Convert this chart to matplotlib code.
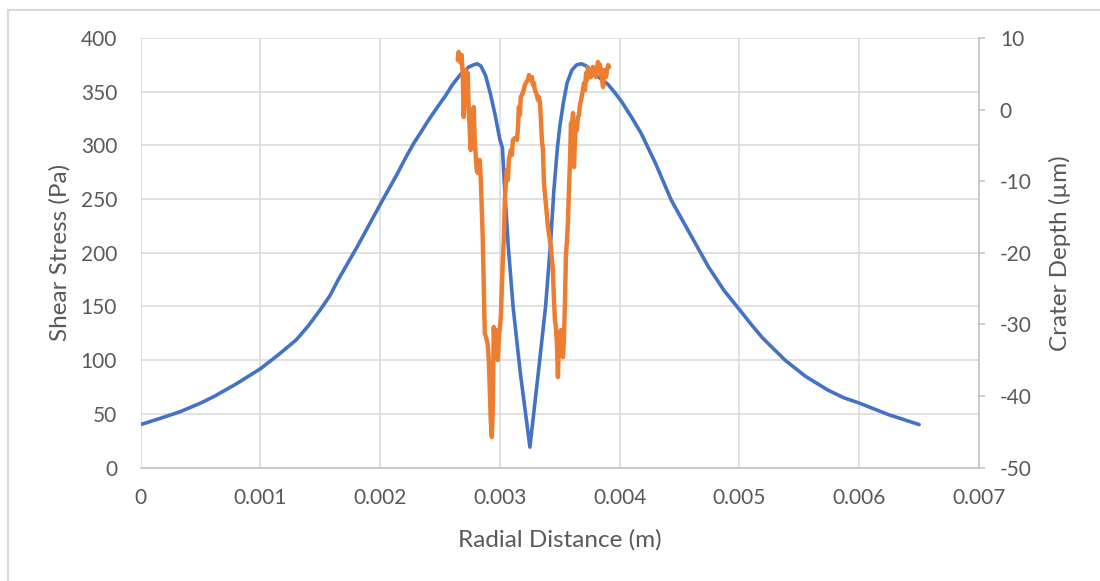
import matplotlib
matplotlib.use("Agg")
import matplotlib.pyplot as plt
from matplotlib.lines import Line2D
import numpy as np

plt.rcParams['font.family'] = ['Lato', 'DejaVu Sans']
plt.rcParams['axes.unicode_minus'] = False

# Wall shear stress profile (radial distance in mm, stress in Pa)
stress_r_mm = [0.0, 0.17, 0.33, 0.50, 0.61, 0.80, 1.00, 1.15, 1.30, 1.40, 1.50,
               1.58, 1.65, 1.81, 1.99, 2.14, 2.21, 2.28, 2.35, 2.40, 2.48, 2.55,
               2.60, 2.67, 2.74, 2.78, 2.81, 2.84, 2.88, 2.92, 2.96, 3.00, 3.02,
               3.04, 3.07, 3.11, 3.17, 3.25, 3.32, 3.38, 3.42, 3.45, 3.48, 3.50,
               3.53, 3.56, 3.60, 3.64, 3.68, 3.72, 3.76, 3.83, 3.90, 3.96, 4.02,
               4.10, 4.18, 4.30, 4.43, 4.58, 4.66, 4.74, 4.87, 5.00, 5.10, 5.19,
               5.38, 5.55, 5.74, 5.87, 6.00, 6.25, 6.50]
shear_pa = [40, 46, 52, 60, 66, 78, 92, 105, 119, 132, 147,
            160, 175, 206, 243, 273, 288, 302, 314, 323, 336, 347,
            356, 366, 373, 375, 376, 374, 365, 348, 328, 305, 298,
            258, 205, 149, 88, 19, 88, 149, 205, 258, 298, 318,
            340, 358, 370, 375, 376, 374, 368, 363, 357, 349, 340,
            326, 311, 283, 249, 219, 203, 187, 165, 147, 133, 121,
            100, 85, 72, 65, 60, 49, 40]

# Measured crater profile (radial distance in mm, depth in um)
crater_r_mm = [2.647, 2.655, 2.664, 2.672, 2.680, 2.689, 2.697, 2.706, 2.714, 2.722,
               2.731, 2.739, 2.756, 2.764, 2.781, 2.789, 2.806, 2.815, 2.831, 2.840,
               2.848, 2.856, 2.865, 2.873, 2.890, 2.898, 2.907, 2.915, 2.923, 2.932,
               2.940, 2.948, 2.957, 2.965, 2.974, 2.982, 2.990, 3.007, 3.015, 3.024,
               3.032, 3.041, 3.049, 3.057, 3.066, 3.074, 3.091, 3.099, 3.108, 3.124,
               3.141, 3.149, 3.158, 3.166, 3.174, 3.191, 3.208, 3.216, 3.233, 3.242,
               3.250, 3.258, 3.267, 3.275, 3.283, 3.292, 3.308, 3.317, 3.325, 3.334,
               3.342, 3.350, 3.359, 3.367, 3.375, 3.392, 3.401, 3.417, 3.426, 3.434,
               3.442, 3.451, 3.459, 3.467, 3.476, 3.484, 3.493, 3.501, 3.509, 3.518,
               3.526, 3.534, 3.543, 3.551, 3.560, 3.568, 3.576, 3.585, 3.593, 3.601,
               3.610, 3.618, 3.626, 3.635, 3.643, 3.651, 3.660, 3.668, 3.677, 3.685,
               3.702, 3.710, 3.719, 3.727, 3.735, 3.744, 3.752, 3.760, 3.769, 3.777,
               3.786, 3.794, 3.802, 3.811, 3.819, 3.827, 3.836, 3.844, 3.852, 3.861,
               3.869, 3.877, 3.886, 3.894, 3.903, 3.911]
crater_um = [6.93, 8.04, 7.21, 6.51, 7.63, 4.83, -1.04, 2.74, 5.53, 4.13,
             5.11, -0.06, -5.65, -2.15, 0.36, -4.25, -8.44, -8.86, -7.04, -9.84,
             -14.03, -17.80, -25.21, -31.21, -32.19, -32.89, -34.99, -39.18, -43.37, -45.74,
             -41.97, -30.37, -32.89, -30.79, -32.89, -34.99, -32.19, -28.98, -25.21, -21.01,
             -18.22, -12.63, -10.26, -8.44, -9.84, -7.04, -5.65, -6.35, -4.25, -3.97,
             -4.25, -2.85, 0.36, -0.76, 1.76, 2.32, 3.43, 3.71, 4.13, 4.83,
             4.41, 4.13, 4.55, 3.43, 3.71, 2.74, 2.04, 1.34, 1.76, 0.92,
             -1.46, -4.25, -5.65, -10.26, -11.65, -14.73, -16.40, -18.22, -19.20, -21.01,
             -22.41, -26.60, -29.40, -30.37, -32.89, -37.36, -31.77, -33.59, -30.79, -34.29,
             -34.57, -32.19, -26.60, -20.32, -18.22, -15.43, -11.23, -7.04, -1.87, -2.85,
             -0.48, -8.02, -4.25, -1.87, -2.85, -1.04, -0.76, 0.64, 1.34, 2.04,
             3.71, 2.74, 5.11, 4.13, 5.95, 4.83, 5.53, 4.55, 5.25, 5.95,
             5.11, 5.53, 4.55, 5.81, 6.65, 5.53, 6.23, 5.11, 4.13, 3.15,
             5.53, 4.83, 4.55, 5.53, 6.23, 5.95]

x_ticks = [0, 0.001, 0.002, 0.003, 0.004, 0.005, 0.006, 0.007]
x_tick_labels = ["0", "0.001", "0.002", "0.003", "0.004", "0.005", "0.006", "0.007"]
shear_ticks = list(range(0, 401, 50))
depth_ticks = list(range(-50, 11, 10))

BLUE = "#4472C4"
ORANGE = "#ED7D31"
TEXT = "#595959"
GRID = "#D9D9D9"
AXIS = "#BFBFBF"

fig = plt.figure(figsize=(11, 5.81), dpi=100)
fig.patch.set_facecolor("white")

# chart area border
fig.add_artist(Line2D([7.5 / 1100, 7.5 / 1100], [0, 1 - 10 / 581],
                      transform=fig.transFigure, color=GRID, lw=1.5))
fig.add_artist(Line2D([7.5 / 1100, 1], [1 - 10 / 581, 1 - 10 / 581],
                      transform=fig.transFigure, color=GRID, lw=1.5))

L, R, T, B = 140.7 / 1100, 979 / 1100, 1 - 38 / 581, 1 - 467.5 / 581
ax = fig.add_axes([L, B, R - L, T - B])
ax2 = ax.twinx()

x_stress = np.array(stress_r_mm) * 1e-3
x_crater = np.array(crater_r_mm) * 1e-3

ax.plot(x_stress, shear_pa, color=BLUE, lw=2.6, solid_joinstyle="round",
        solid_capstyle="round", zorder=3)
ax2.plot(x_crater, crater_um, color=ORANGE, lw=3.2, solid_joinstyle="round",
         solid_capstyle="round", zorder=3)

ax.set_xlim(0, 0.007)
ax.set_ylim(0, 400)
ax2.set_ylim(-50, 10)

ax.set_xticks(x_ticks)
ax.set_xticklabels(x_tick_labels)
ax.set_yticks(shear_ticks)
ax2.set_yticks(depth_ticks)

ax.grid(True, color=GRID, lw=1.1)
ax.set_axisbelow(True)

for s in ["top", "left", "right"]:
    ax.spines[s].set_visible(False)
ax.spines["bottom"].set_color(AXIS)
ax.spines["bottom"].set_linewidth(1.1)
for s in ["top", "left", "bottom"]:
    ax2.spines[s].set_visible(False)
ax2.spines["right"].set_color(AXIS)
ax2.spines["right"].set_linewidth(1.1)

ax.tick_params(axis="x", length=0, pad=15, labelsize=15, labelcolor=TEXT)
ax.tick_params(axis="y", length=0, pad=17, labelsize=15, labelcolor=TEXT)
ax2.tick_params(axis="y", length=4.5, width=1.1, color=AXIS, pad=10.5,
                labelsize=15, labelcolor=TEXT)

ax.set_xlabel("Radial Distance (m)", fontsize=17.5, color=TEXT)
ax.set_ylabel("Shear Stress (Pa)", fontsize=17.5, color=TEXT)
ax2.set_ylabel("Crater Depth (µm)", fontsize=17.5, color=TEXT)
ax.xaxis.label.set_va("center")
ax.yaxis.label.set_va("center")
ax2.yaxis.label.set_va("center")
ax.xaxis.set_label_coords(0.5, -0.169)
ax.yaxis.set_label_coords(-0.0963, 0.5)
ax2.yaxis.set_label_coords(1.0966, 0.5)

fig.savefig("out.png", dpi=100, facecolor="white")
